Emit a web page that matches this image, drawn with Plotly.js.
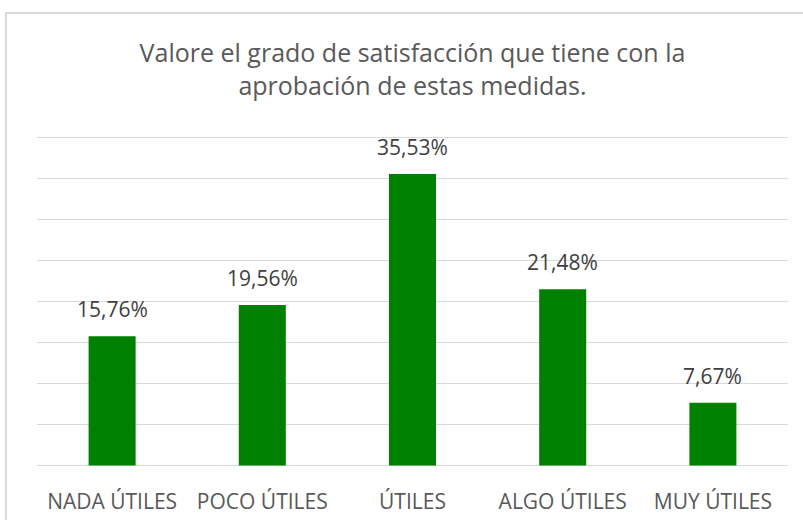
<!DOCTYPE html>
<html>
<head>
<meta charset="utf-8">
<script src="https://cdn.plot.ly/plotly-3.0.1.min.js"></script>
<style>html,body{margin:0;padding:0;background:#fff}#chart{width:803px;height:520px}</style>
</head>
<body>
<div id="chart"></div>
<script>
const categories = ["NADA ÚTILES", "POCO ÚTILES", "ÚTILES", "ALGO ÚTILES", "MUY ÚTILES"];
const values = [15.76, 19.56, 35.53, 21.48, 7.67];
const valueLabels = ["15,76%", "19,56%", "35,53%", "21,48%", "7,67%"];
const gridValues = [0, 5, 10, 15, 20, 25, 30, 35, 40];
const chartTitle = "Valore el grado de satisfacción que tiene con la<br>aprobación de estas medidas.";

const FONT = "Open Sans, sans-serif";

const trace = {
  type: "bar",
  x: categories,
  y: values,
  marker: {color: "#008000"},
  hoverinfo: "none"
};

const annotations = categories.map((c, i) => ({
  x: c, y: values[i], xref: "x", yref: "y",
  text: valueLabels[i], showarrow: false,
  yanchor: "bottom", yshift: 11,
  font: {family: FONT, size: 21, color: "#404040"}
}));

const layout = {
  width: 803, height: 520,
  margin: {l: 37, r: 15, t: 135, b: 52},
  paper_bgcolor: "#ffffff", plot_bgcolor: "#ffffff",
  showlegend: false,
  bargap: 0.687,
  title: {
    text: chartTitle,
    font: {family: FONT, size: 25, color: "#595959"},
    xref: "paper", x: 0.5, xanchor: "center",
    yref: "container", y: 1 - 62/520, yanchor: "middle"
  },
  xaxis: {
    type: "category",
    showgrid: false, zeroline: false, showline: false,
    ticks: "",
    ticklabelstandoff: 19,
    tickfont: {family: FONT, size: 21, color: "#595959"},
    fixedrange: true
  },
  yaxis: {
    range: [-0.3, 40.3], tickvals: gridValues,
    showgrid: true, gridcolor: "#d9d9d9", gridwidth: 1.3,
    zeroline: false, showline: false,
    showticklabels: false, ticks: "",
    fixedrange: true
  },
  annotations: annotations,
  shapes: [{
    type: "rect", xref: "paper", yref: "paper",
    x0: (6 - 37) / 751, x1: (820 - 37) / 751,
    y0: (468 - 540) / 333, y1: (468 - 13) / 333,
    line: {color: "#d9d9d9", width: 2}, fillcolor: "rgba(0,0,0,0)",
    layer: "below"
  }]
};

Plotly.newPlot("chart", [trace], layout, {staticPlot: true, displayModeBar: false});
</script>
</body>
</html>
